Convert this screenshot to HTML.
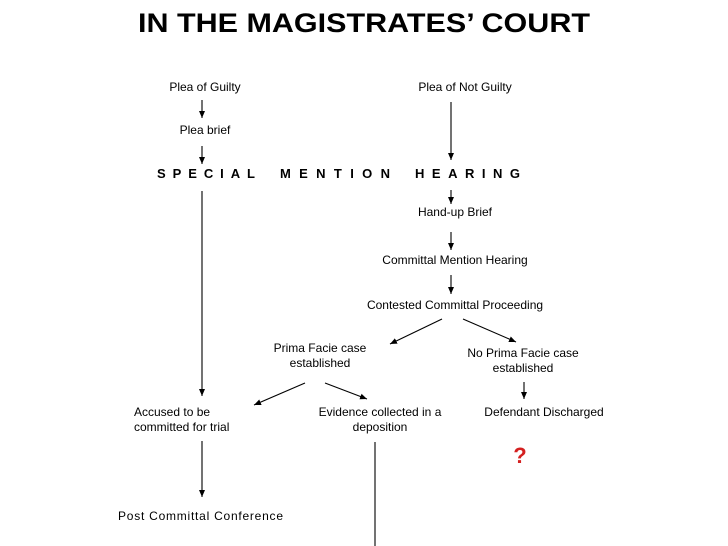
<!DOCTYPE html>
<html><head><style>
html,body{margin:0;padding:0;background:#fff;}
svg{display:block;}
text{font-family:"Liberation Sans",sans-serif;fill:#000;}
.s{font-size:12px;}
</style></head><body>
<svg width="728" height="546" viewBox="0 0 728 546" xmlns="http://www.w3.org/2000/svg">
<defs><marker id="a" markerWidth="8" markerHeight="8" refX="7" refY="4" orient="auto" markerUnits="userSpaceOnUse"><path d="M0,1 L7,4 L0,7 Z" fill="#000"/></marker></defs>
<text x="364" y="32" text-anchor="middle" font-size="27" font-weight="bold" textLength="452" lengthAdjust="spacingAndGlyphs">IN THE MAGISTRATES’ COURT</text>
<g class="s">
<text x="205" y="91" text-anchor="middle">Plea of Guilty</text>
<text x="205" y="134" text-anchor="middle">Plea brief</text>
<text x="465" y="91" text-anchor="middle">Plea of Not Guilty</text>
<text x="455" y="216" text-anchor="middle">Hand-up Brief</text>
<text x="455" y="264" text-anchor="middle">Committal Mention Hearing</text>
<text x="455" y="309" text-anchor="middle">Contested Committal Proceeding</text>
<text x="320" y="352" text-anchor="middle">Prima Facie case</text>
<text x="320" y="367" text-anchor="middle">established</text>
<text x="523" y="357" text-anchor="middle">No Prima Facie case</text>
<text x="523" y="372" text-anchor="middle">established</text>
<text x="134" y="416">Accused to be</text>
<text x="134" y="431">committed for trial</text>
<text x="380" y="416" text-anchor="middle">Evidence collected in a</text>
<text x="380" y="431" text-anchor="middle">deposition</text>
<text x="544" y="416" text-anchor="middle">Defendant Discharged</text>
<text x="118" y="520" textLength="165" lengthAdjust="spacing">Post Committal Conference</text>
</g>
<g font-size="13" font-weight="bold">
<text x="157" y="178" textLength="98" lengthAdjust="spacing">SPECIAL</text>
<text x="280" y="178" textLength="110" lengthAdjust="spacing">MENTION</text>
<text x="415" y="178" textLength="105" lengthAdjust="spacing">HEARING</text>
</g>
<text x="520" y="463" text-anchor="middle" font-size="22" font-weight="bold" style="fill:#d42020">?</text>
<g stroke="#000" stroke-width="1.1" marker-end="url(#a)">
<line x1="202" y1="100" x2="202" y2="118"/>
<line x1="202" y1="146" x2="202" y2="164"/>
<line x1="451" y1="102" x2="451" y2="160"/>
<line x1="202" y1="191" x2="202" y2="396"/>
<line x1="451" y1="190" x2="451" y2="204"/>
<line x1="451" y1="232" x2="451" y2="250"/>
<line x1="451" y1="275" x2="451" y2="294"/>
<line x1="442" y1="319" x2="390" y2="344"/>
<line x1="463" y1="319" x2="516" y2="342"/>
<line x1="524" y1="382" x2="524" y2="399"/>
<line x1="305" y1="383" x2="254" y2="405"/>
<line x1="325" y1="383" x2="367" y2="399"/>
<line x1="202" y1="441" x2="202" y2="497"/>
</g>
<line x1="375" y1="442" x2="375" y2="546" stroke="#000" stroke-width="1.1"/>
</svg>
</body></html>
